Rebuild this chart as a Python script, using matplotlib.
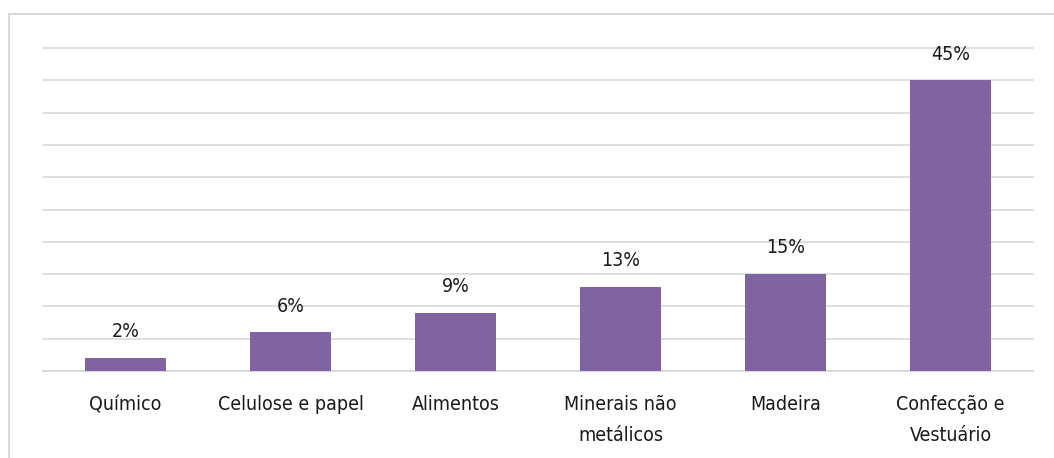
import matplotlib
matplotlib.use("Agg")
import matplotlib.pyplot as plt
from matplotlib.patches import Rectangle
from matplotlib import font_manager

categories = ["Químico", "Celulose e papel", "Alimentos", "Minerais não\nmetálicos", "Madeira", "Confecção e\nVestuário"]
values = [2, 6, 9, 13, 15, 45]
value_labels = ["2%", "6%", "9%", "13%", "15%", "45%"]

plt.rcParams['font.family'] = ['DejaVu Sans']
plt.rcParams['font.stretch'] = 'condensed'

W, H = 1054, 458
fig = plt.figure(figsize=(W/100, H/100), dpi=100)
fig.patches.append(Rectangle((9/W, -0.02), 1.02, 1 - 14/H + 0.02, transform=fig.transFigure,
                             fill=False, edgecolor="#D9D9D9", linewidth=1.5, zorder=0))
ax = fig.add_axes([43/W, 1 - 371/H, (1033-43)/W, (371-48)/H])
x = range(len(categories))
ax.bar(x, values, width=0.49, color="#8064A2", zorder=3)
ax.set_ylim(0, 50)
ax.set_xlim(-0.5, len(categories) - 0.5)
ax.set_yticks(range(0, 51, 5))
ax.yaxis.grid(True, color="#D9D9D9", linewidth=1.2, clip_on=False)
ax.set_axisbelow(True)
ax.tick_params(axis='y', left=False, labelleft=False)
ax.tick_params(axis='x', bottom=False, pad=14)
ax.set_xticks(list(x))
ax.set_xticklabels(categories, fontsize=14, color="#1a1a1a", linespacing=1.75, fontstretch='condensed')
for s in ["top", "left", "right"]:
    ax.spines[s].set_visible(False)
ax.spines["bottom"].set_color("#D9D9D9")
ax.spines["bottom"].set_linewidth(1.2)
for xi, v, lab in zip(x, values, value_labels):
    ax.annotate(lab, (xi, v), xytext=(0, 12), textcoords="offset points",
                ha="center", va="bottom", fontsize=14, color="#1a1a1a", fontstretch='condensed')
fig.savefig("out.png", dpi=100)
